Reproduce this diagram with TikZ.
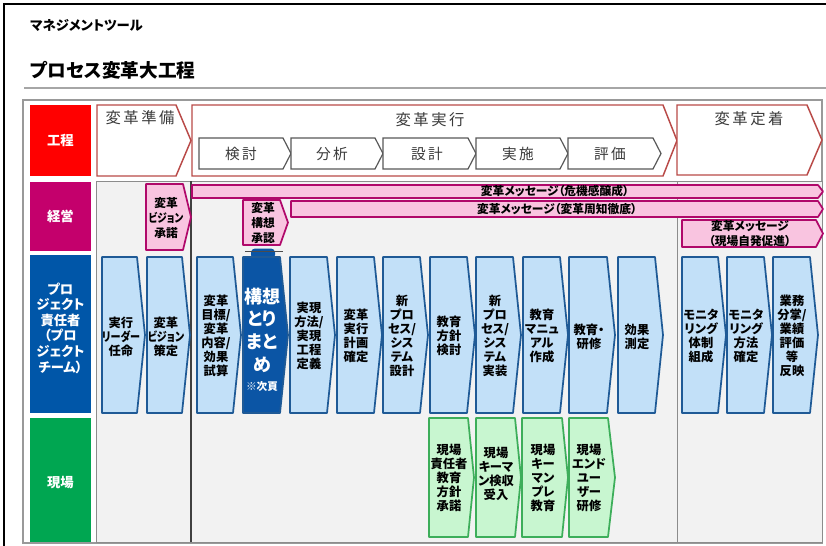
\documentclass[tikz,border=0pt]{standalone}
\usepackage{fontspec}
\setmainfont{Noto Sans CJK JP}[RawFeature={+palt}]
\definecolor{kred}{HTML}{FF0000}
\definecolor{kmag}{HTML}{C4006C}
\definecolor{kblue}{HTML}{0056A8}
\definecolor{kgreen}{HTML}{00A651}
\definecolor{procred}{HTML}{B94A48}
\definecolor{proctext}{HTML}{3A3A3A}
\definecolor{subgray}{HTML}{595959}
\definecolor{panel}{HTML}{F2F2F2}
\definecolor{panelline}{HTML}{8C8C8C}
\definecolor{pinkfill}{HTML}{F9C4E0}
\definecolor{pinkline}{HTML}{B0086A}
\definecolor{bluefill}{HTML}{C2E0F8}
\definecolor{blueline}{HTML}{1F5A96}
\definecolor{darkfill}{HTML}{0B55A5}
\definecolor{greenfill}{HTML}{C8F6D0}
\definecolor{greenline}{HTML}{3DAE5A}
\newcommand{\pentpath}[6]{\draw[#1] (#2,#5) -- (#3,#5) -- (#4,{(#5+#6)/2}) -- (#3,#6) -- (#2,#6) -- cycle;}
\newcommand{\nk}[1]{\scalebox{0.82}[1]{#1}}
\tikzset{
  procbox/.style={draw=procred, fill=white, line width=1.1pt},
  subbox/.style={draw=subgray, fill=white, line width=0.9pt},
  pinkbox/.style={draw=pinkline, fill=pinkfill, line width=1.3pt, line join=round},
  bluebox/.style={draw=blueline, fill=bluefill, line width=1.3pt, line join=round},
  darkbox/.style={draw=blueline, fill=darkfill, line width=1.3pt, line join=round},
  greenbox/.style={draw=greenline, fill=greenfill, line width=1.3pt, line join=round},
  btxt/.style={font=\bfseries\fontsize{9.2}{10.5}\selectfont, align=center, inner sep=0pt, text=black},
  ptxt/.style={font=\bfseries\fontsize{8.8}{11.25}\selectfont, align=center, inner sep=0pt, text=black},
  proctxt/.style={font=\fontsize{11.5}{13}\selectfont, text=proctext, inner sep=0pt},
  subtxt/.style={font=\fontsize{11}{12}\selectfont, text=proctext, inner sep=0pt},
  labtxt/.style={font=\bfseries\fontsize{10}{11.7}\selectfont, text=white, align=center, inner sep=0pt},
}
\begin{document}
\begin{tikzpicture}[x=0.75pt,y=-0.75pt]
\useasboundingbox (0,0) rectangle (826,546);
\fill[white] (0,0) rectangle (826,546);
% outer frame
\draw[black, line width=1.5pt] (4,546) -- (4,4) -- (826,4);
% titles
\node[anchor=west, inner sep=0pt, font=\bfseries\fontsize{10}{11}\selectfont] (t1) at (30,25) {マネジメントツール};
\node[anchor=west, inner sep=0pt, font=\bfseries\fontsize{14}{15}\selectfont] (t2) at (30,70) {プロセス変革大工程};
\draw[black!35, line width=1.2pt] (24,88) -- (826,88);
% inner frame
\draw[black!40, line width=0.8pt, fill=white] (23,100) rectangle (822,543);
% column panels
\draw[panelline, fill=panel, line width=0.7pt] (96,181) rectangle (191,542);
\draw[panelline, fill=panel, line width=0.7pt] (191,181) rectangle (677,542);
\draw[panelline, fill=panel, line width=0.7pt] (677,181) rectangle (822,542);
\draw[black!75, line width=0.9pt] (191,181) -- (191,542);
% row labels
\fill[kred] (30,105) rectangle (91,176);
\fill[kmag] (30,182) rectangle (91,251);
\fill[kblue] (30,255) rectangle (91,413);
\fill[kgreen] (30,418) rectangle (91,542);
\node[labtxt] (lk) at (60.5,140.5) {工程};
\node[labtxt] (lm) at (60.5,216.5) {経営};
\node[labtxt] (lp) at (60.5,328) {プロ\\ジェクト\\責任者\\（プロ\\ジェクト\\チーム）};
\node[labtxt] (lg) at (60.5,483) {現場};
% process row
\pentpath{procbox}{97}{176}{191}{105}{176}
\pentpath{procbox}{192}{663}{677}{105}{176}
\pentpath{procbox}{677}{807}{822}{105}{175}
\node[proctxt] (p1) at (140,118) {変\,革\,準\,備};
\node[proctxt] (p2) at (430,120) {変\,革\,実\,行};
\node[proctxt] (p3) at (749,119) {変\,革\,定\,着};
\pentpath{subbox}{199}{283}{291}{138}{169}
\pentpath{subbox}{291}{375}{383}{138}{169}
\pentpath{subbox}{383}{468}{476}{138}{169}
\pentpath{subbox}{476}{560}{568}{138}{169}
\pentpath{subbox}{568}{653}{661}{138}{169}
\node[subtxt] (s1) at (241,154) {検\,討};
\node[subtxt] (s2) at (332,154) {分\,析};
\node[subtxt] (s3) at (427,154) {設\,計};
\node[subtxt] (s4) at (518,154) {実\,施};
\node[subtxt] (s5) at (610,154) {評\,価};
% management row
\pentpath{pinkbox}{192}{818}{823}{185}{198}
\pentpath{pinkbox}{291}{818}{823}{201}{217}
\pentpath{pinkbox}{682}{816}{823}{220}{247}
\pentpath{pinkbox}{146}{183}{191}{184}{250}
\pentpath{pinkbox}{243}{280}{288}{200}{245}
\node[ptxt] (m1) at (555,191.5) {変革メッセージ（危機感醸成）};
\node[ptxt] (m2) at (557,209) {変革メッセージ（変革周知徹底）};
\node[ptxt] (m3) at (750,233.5) {変革メッセージ\\（現場自発促進）};
\node[ptxt] (m4) at (166,218) {変革\\\nk{ビジョン}\\承諾};
\node[ptxt] (m5) at (263,223) {変革\\構想\\承認};
% cap of dark box
\fill[darkfill, rounded corners=3pt] (251,259) rectangle (275,248.5);
\draw[black!70, line width=0.6pt] (245,251.5) -- (283,251.5);
% project row
\pentpath{bluebox}{102}{137}{145}{257}{413}
\pentpath{bluebox}{147}{182}{190}{257}{413}
\pentpath{bluebox}{197}{233}{241}{257}{413}
\pentpath{darkbox}{243}{280}{288}{257}{413}
\pentpath{bluebox}{290}{327}{335}{257}{413}
\pentpath{bluebox}{337}{374}{382}{257}{413}
\pentpath{bluebox}{383}{420}{428}{257}{413}
\pentpath{bluebox}{430}{467}{475}{257}{413}
\pentpath{bluebox}{476}{513}{521}{257}{413}
\pentpath{bluebox}{523}{560}{568}{257}{413}
\pentpath{bluebox}{569}{607}{615}{257}{413}
\pentpath{bluebox}{618}{655}{663}{257}{413}
\pentpath{bluebox}{682}{718}{726}{257}{413}
\pentpath{bluebox}{727}{764}{772}{257}{413}
\pentpath{bluebox}{773}{810}{818}{257}{413}
\node[btxt] (b1) at (121,337) {実行\\\nk{リーダー}\\任命};
\node[btxt] (b2) at (166,337) {変革\\\nk{ビジョン}\\策定};
\node[btxt] (b3) at (216,336) {変革\\目標/\\変革\\内容/\\効果\\試算};
\node[font=\bfseries\fontsize{13.5}{17}\selectfont, text=white, align=center, inner sep=0pt] (b4) at (262,330) {構想\\とり\\まと\\め};
\node[font=\bfseries\fontsize{8}{9}\selectfont, text=white, inner sep=0pt] (b4n) at (262,386) {※次頁};
\node[btxt] (b5) at (309,336) {実現\\方法/\\実現\\工程\\定義};
\node[btxt] (b6) at (356,336) {変革\\実行\\計画\\確定};
\node[btxt] (b7) at (402,336) {新\\プロ\\セス/\\シス\\テム\\設計};
\node[btxt] (b8) at (449,336) {教育\\方針\\検討};
\node[btxt] (b9) at (495,336) {新\\プロ\\セス/\\シス\\テム\\実装};
\node[btxt] (b10) at (542,336) {教育\\マニュ\\アル\\作成};
\node[btxt] (b11) at (589,337) {教育・\\研修};
\node[btxt] (b12) at (637,337) {効果\\測定};
\node[btxt] (b13) at (701,336) {モニタ\\リング\\体制\\組成};
\node[btxt] (b14) at (746,336) {モニタ\\リング\\方法\\確定};
\node[btxt] (b15) at (792,336) {業務\\分掌/\\業績\\評価\\等\\反映};
% field row
\pentpath{greenbox}{429}{468}{474}{418}{537}
\pentpath{greenbox}{476}{515}{521}{418}{537}
\pentpath{greenbox}{522}{562}{568}{418}{537}
\pentpath{greenbox}{569}{608}{615}{418}{537}
\node[btxt] (g1) at (449,478) {現場\\責任者\\教育\\方針\\承諾};
\node[btxt] (g2) at (496,474) {現場\\キーマ\\ン検収\\受入};
\node[btxt] (g3) at (543,478) {現場\\キー\\マン\\プレ\\教育};
\node[btxt] (g4) at (589,478) {現場\\エンド\\ユー\\ザー\\研修};
\end{tikzpicture}
\end{document}
